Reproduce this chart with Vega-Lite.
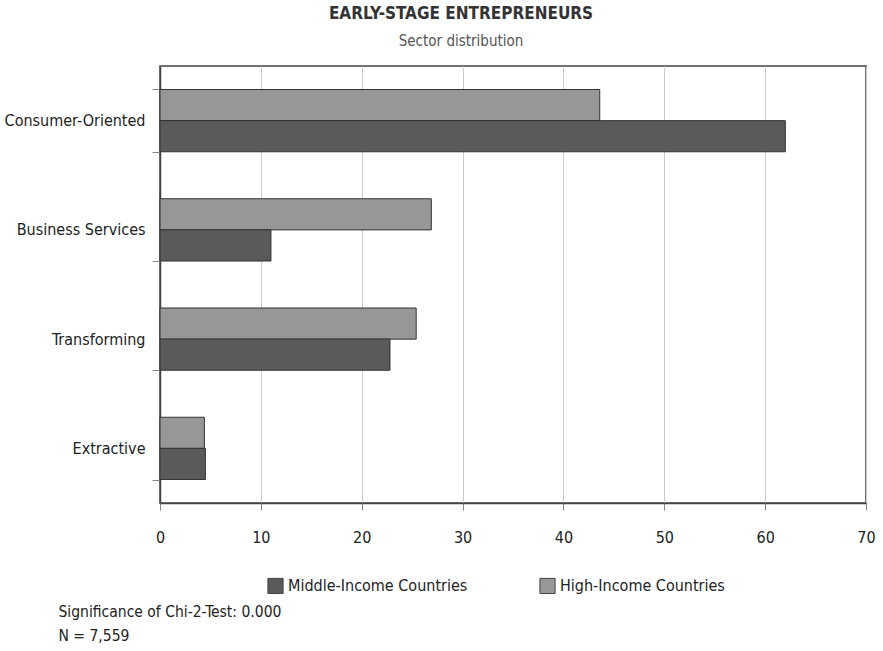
{
  "$schema": "https://vega.github.io/schema/vega-lite/v6.json",
  "width": 706,
  "height": 437,
  "autosize": "none",
  "padding": {"left": 160, "top": 66, "right": 17, "bottom": 148},
  "background": "white",
  "title": {
    "text": "EARLY-STAGE ENTREPRENEURS",
    "subtitle": "Sector distribution",
    "anchor": "middle",
    "dx": -52,
    "offset": 8,
    "font": "DejaVu Sans Condensed",
    "subtitleFont": "DejaVu Sans Condensed",
    "fontSize": 17,
    "fontWeight": "bold",
    "color": "#333333",
    "subtitleFontSize": 15,
    "subtitleColor": "#555555",
    "subtitlePadding": 11
  },
  "config": {
    "font": "DejaVu Sans Condensed",
    "view": {"stroke": "#444444", "strokeWidth": 1.5}
  },
  "data": {
    "values": [
      {"sector": "Consumer-Oriented", "group": "High-Income Countries", "value": 43.6},
      {"sector": "Consumer-Oriented", "group": "Middle-Income Countries", "value": 62.0},
      {"sector": "Business Services", "group": "High-Income Countries", "value": 26.9},
      {"sector": "Business Services", "group": "Middle-Income Countries", "value": 11.0},
      {"sector": "Transforming", "group": "High-Income Countries", "value": 25.4},
      {"sector": "Transforming", "group": "Middle-Income Countries", "value": 22.8},
      {"sector": "Extractive", "group": "High-Income Countries", "value": 4.4},
      {"sector": "Extractive", "group": "Middle-Income Countries", "value": 4.5}
    ]
  },
  "mark": {"type": "bar", "stroke": "#333333", "strokeWidth": 1},
  "encoding": {
    "y": {
      "field": "sector",
      "type": "nominal",
      "sort": ["Consumer-Oriented", "Business Services", "Transforming", "Extractive"],
      "scale": {"paddingInner": 0.43, "paddingOuter": 0.215},
      "axis": {
        "title": null,
        "tickBand": "extent",
        "tickSize": 8,
        "tickColor": "#888888",
        "domainColor": "#444444",
        "domainWidth": 1.5,
        "labelPadding": 7,
        "labelFont": "DejaVu Sans Condensed",
        "labelFontSize": 16,
        "labelColor": "#222222",
        "labelLimit": 300,
        "grid": false
      }
    },
    "x": {
      "field": "value",
      "type": "quantitative",
      "scale": {"domain": [0, 70], "nice": false},
      "axis": {
        "values": [0, 10, 20, 30, 40, 50, 60, 70],
        "grid": true,
        "gridColor": "#cccccc",
        "gridWidth": 1,
        "tickSize": 7,
        "tickColor": "#888888",
        "domainColor": "#444444",
        "domainWidth": 1.5,
        "labelFlush": false,
        "labelPadding": 19,
        "labelFont": "DejaVu Sans Condensed",
        "labelFontSize": 16,
        "labelColor": "#222222",
        "title": ["Significance of Chi-2-Test: 0.000", "N = 7,559"],
        "titleFont": "DejaVu Sans Condensed",
        "titleX": -102,
        "titleY": 101,
        "titleAlign": "left",
        "titleAnchor": "start",
        "titleBaseline": "top",
        "titleLineHeight": 24,
        "titleFontWeight": "normal",
        "titleFontSize": 15.5,
        "titleColor": "#222222"
      }
    },
    "yOffset": {
      "field": "group",
      "type": "nominal",
      "sort": ["High-Income Countries", "Middle-Income Countries"]
    },
    "color": {
      "field": "group",
      "type": "nominal",
      "scale": {
        "domain": ["Middle-Income Countries", "High-Income Countries"],
        "range": ["#5a5a5a", "#979797"]
      },
      "legend": {
        "orient": "none",
        "legendX": 107,
        "legendY": 511,
        "direction": "horizontal",
        "title": null,
        "symbolType": "square",
        "symbolSize": 230,
        "symbolStrokeColor": "#444444",
        "symbolStrokeWidth": 1,
        "labelFont": "DejaVu Sans Condensed",
        "labelFontSize": 16,
        "labelLimit": 400,
        "labelColor": "#222222",
        "labelOffset": 4,
        "columnPadding": 69
      }
    }
  }
}
